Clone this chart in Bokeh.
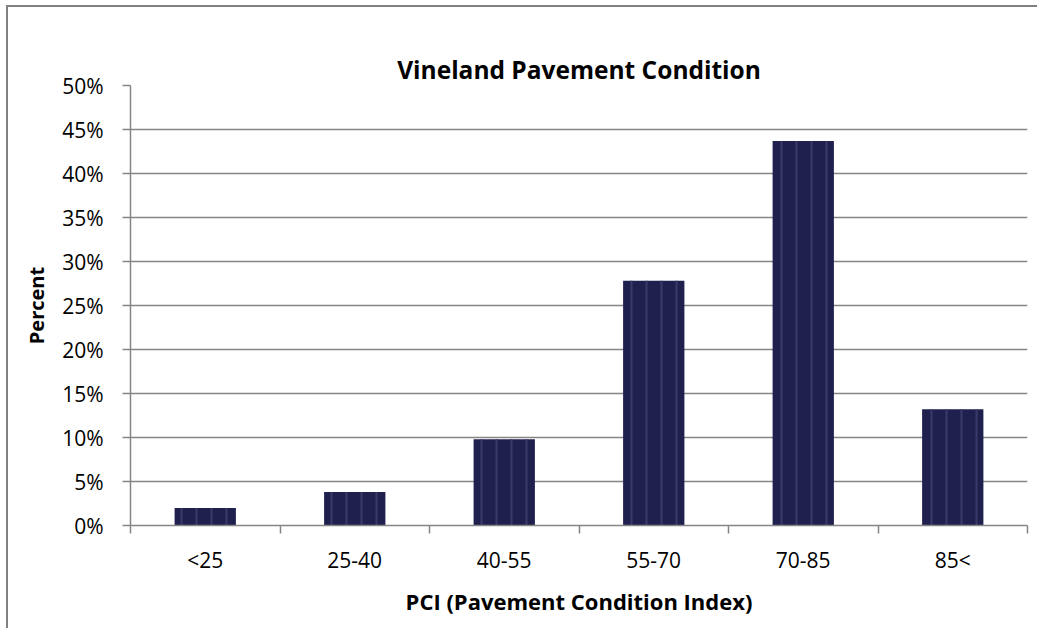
from bokeh.plotting import figure
from bokeh.models import FixedTicker, NumeralTickFormatter, Range1d
from bokeh.embed import file_html
from bokeh.resources import INLINE
import numpy as np

categories = ["<25", "25-40", "40-55", "55-70", "70-85", "85<"]
percent = [0.020, 0.038, 0.098, 0.278, 0.437, 0.132]
y_ticks = [0.0, 0.05, 0.10, 0.15, 0.20, 0.25, 0.30, 0.35, 0.40, 0.45, 0.50]

FONT = "Open Sans"
GRAY = "#858585"
x = (np.arange(len(categories)) + 0.5).tolist()

p = figure(width=1031, height=623, output_backend="svg", toolbar_location=None,
           x_range=Range1d(0, len(categories)), y_range=Range1d(0, 0.5),
           min_border_left=122, min_border_right=12, min_border_top=78, min_border_bottom=105,
           title="Vineland Pavement Condition")
p.styles = {"border-left": "2px solid #808080", "border-top": "2px solid #808080",
            "margin-left": "6px", "margin-top": "5px"}
p.outline_line_color = None
p.background_fill_color = "white"

p.title.align = "center"
p.title.text_font = FONT
p.title.text_font_size = "24.5px"
p.title.text_font_style = "bold"
p.title.text_color = "black"
p.title.standoff = 0

p.vbar(x=x, top=percent, width=0.41, fill_color="#20204f", line_color=None,
       hatch_pattern="vertical_line", hatch_color="#3a3a68", hatch_scale=15, hatch_weight=2)

# y axis
p.yaxis.ticker = FixedTicker(ticks=y_ticks)
p.yaxis.formatter = NumeralTickFormatter(format="0%")
p.yaxis.axis_line_color = GRAY
p.yaxis.axis_line_width = 1.5
p.yaxis.major_tick_line_color = GRAY
p.yaxis.major_tick_line_width = 1.5
p.yaxis.major_tick_out = 8
p.yaxis.major_tick_in = 0
p.yaxis.minor_tick_line_color = None
p.yaxis.major_label_text_font = FONT
p.yaxis.major_label_text_font_size = "21px"
p.yaxis.major_label_text_color = "black"
p.yaxis.major_label_standoff = 19
p.yaxis.axis_label = "Percent"
p.yaxis.axis_label_text_font = FONT
p.yaxis.axis_label_text_font_size = "20px"
p.yaxis.axis_label_text_font_style = "bold"
p.yaxis.axis_label_text_color = "black"
p.yaxis.axis_label_standoff = 9

# x axis
p.xaxis.ticker = FixedTicker(ticks=x, minor_ticks=list(range(len(categories) + 1)))
p.xaxis.major_label_overrides = {xv: c for xv, c in zip(x, categories)}
p.xaxis.axis_line_color = GRAY
p.xaxis.axis_line_width = 1.5
p.xaxis.major_tick_line_color = None
p.xaxis.major_tick_out = 8
p.xaxis.major_tick_in = 0
p.xaxis.minor_tick_line_color = GRAY
p.xaxis.minor_tick_line_width = 1.5
p.xaxis.minor_tick_out = 8
p.xaxis.minor_tick_in = 0
p.xaxis.major_label_text_font = FONT
p.xaxis.major_label_text_font_size = "21px"
p.xaxis.major_label_text_color = "black"
p.xaxis.major_label_standoff = 12
p.xaxis.axis_label = "PCI (Pavement Condition Index)"
p.xaxis.axis_label_text_font = FONT
p.xaxis.axis_label_text_font_size = "22px"
p.xaxis.axis_label_text_font_style = "bold"
p.xaxis.axis_label_text_color = "black"
p.xaxis.axis_label_standoff = 9

p.xgrid.grid_line_color = None
p.ygrid.ticker = FixedTicker(ticks=y_ticks)
p.ygrid.grid_line_color = GRAY
p.ygrid.grid_line_width = 1.5

open("out.html", "w").write(file_html(p, INLINE))
